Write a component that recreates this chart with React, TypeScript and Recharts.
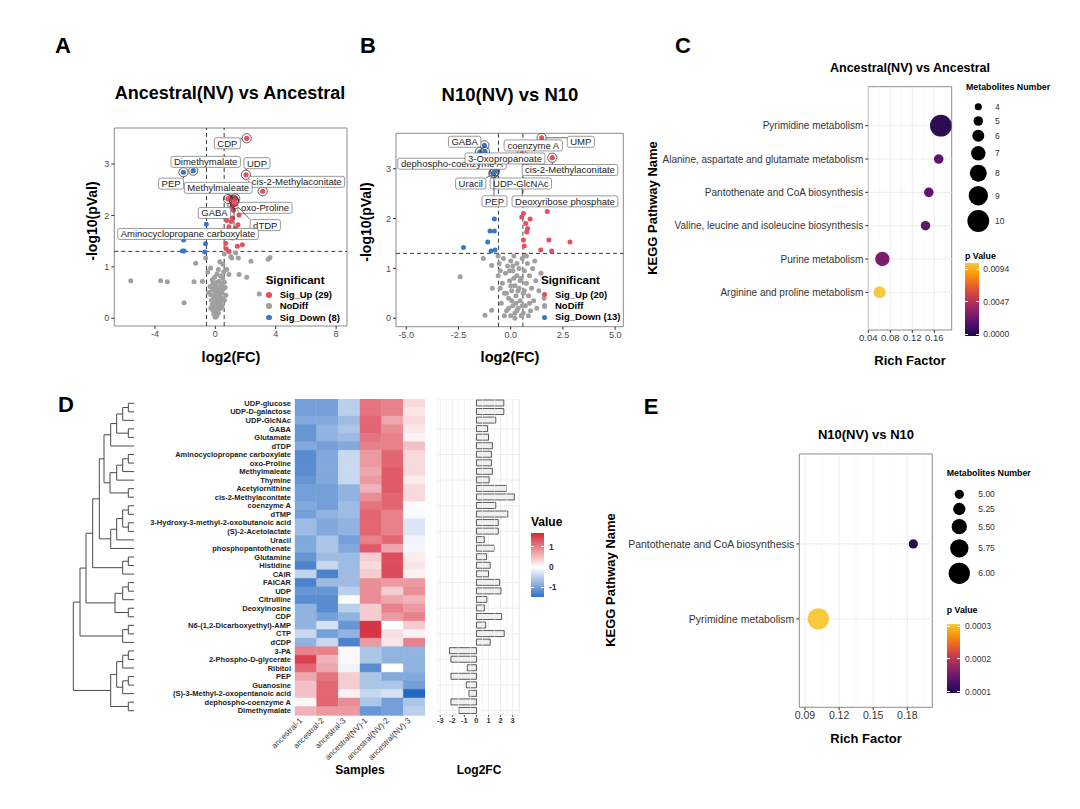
import React from "react";
import {
  ScatterChart,
  Scatter,
  XAxis,
  YAxis,
  ReferenceLine,
  ReferenceArea,
  BarChart,
  Bar,
  Cell,
  CartesianGrid,
} from "recharts";

const FONT = "'Liberation Sans', Arial, Helvetica, sans-serif";
const RED = "#E4505E";
const BLUE = "#3B77C4";
const GRAY = "#A0A0A0";
const LFC = 0.585;
const PCUT = 1.301;

type XY = [number, number];
type Tagged = { name: string; x: number; y: number; sig: "up" | "down" };

// ---------- A: Ancestral(NV) vs Ancestral ----------
const aUp: XY[] = [
  [0.8, 2.04], [1.57, 2.01], [1.13, 1.95], [1.5, 1.82], [0.9, 1.78], [1.35, 1.75],
  [0.8, 1.62], [1.13, 1.56], [1.79, 1.43], [1.46, 1.4], [0.91, 1.3], [0.69, 1.46],
  [1.0, 2.36], [1.15, 2.28], [1.1, 2.18], [0.95, 2.12], [1.2, 2.1], [1.05, 1.88],
  [0.75, 1.9], [1.25, 1.65], [0.72, 1.35],
];
const aDown: XY[] = [
  [-0.6, 1.83], [-2.18, 1.31], [-2.07, 1.31], [-0.7, 1.29], [-2.1, 1.52], [-0.65, 1.45],
];
const aNoDiff: XY[] = [
  [-5.6, 0.73], [-3.62, 0.73], [-3.18, 0.71], [-2.07, 0.3], [-1.41, 0.71], [-1.3, 1.07],
  [-0.85, 0.72], [-0.64, 1.17], [-0.5, 0.9], [-0.31, 0.98], [-0.2, 0.75], [0.3, 1.1],
  [0.5, 1.05], [0.6, 1.25], [0.75, 0.95], [0.9, 0.85], [1.02, 1.2], [1.09, 1.17],
  [1.35, 1.27], [1.52, 1.17], [1.57, 0.85], [2.08, 0.8], [2.36, 1.11], [2.91, 0.47],
  [3.5, 1.15], [3.62, 1.18],
  [0, 0.02], [0.1, 0.05], [-0.1, 0.08], [0.2, 0.1], [0.05, 0.12], [-0.15, 0.15],
  [0.25, 0.18], [0.1, 0.2], [-0.05, 0.22], [0.3, 0.25], [0.15, 0.27], [-0.2, 0.28],
  [0, 0.3], [0.35, 0.32], [-0.25, 0.35], [0.2, 0.36], [0.05, 0.38], [0.4, 0.4],
  [-0.1, 0.42], [0.25, 0.44], [-0.3, 0.46], [0.1, 0.48], [0.45, 0.5], [0, 0.52],
  [-0.2, 0.55], [0.3, 0.56], [0.55, 0.58], [0.15, 0.6], [-0.35, 0.62], [0.4, 0.64],
  [0.05, 0.66], [-0.15, 0.68], [0.6, 0.7], [0.25, 0.72], [0.5, 0.78], [-0.05, 0.8],
  [0.35, 0.82], [0.1, 0.86], [0.55, 0.9], [0.2, 0.95], [0.65, 0.6], [0.7, 0.45],
  [-0.45, 0.5], [0.45, 0.25], [-0.3, 0.2], [0.15, 0.14], [0.3, 0.4], [0.2, 0.5],
  [-0.1, 0.6], [0.4, 0.2], [0.0, 0.45], [0.1, 0.7], [0.45, 0.68], [0.6, 0.35],
];
const aTagged: Tagged[] = [
  { name: "CDP", x: 2.08, y: 3.5, sig: "up" },
  { name: "UDP", x: 2.03, y: 2.79, sig: "up" },
  { name: "cis-2-Methylaconitate", x: 3.14, y: 2.47, sig: "up" },
  { name: "Methylmaleate", x: 1.32, y: 2.33, sig: "up" },
  { name: "oxo-Proline", x: 1.24, y: 2.3, sig: "up" },
  { name: "GABA", x: 0.84, y: 2.32, sig: "up" },
  { name: "dTDP", x: 1.32, y: 2.22, sig: "up" },
  { name: "Aminocyclopropane carboxylate", x: 1.24, y: 2.27, sig: "up" },
  { name: "PEP", x: -2.11, y: 2.84, sig: "down" },
  { name: "Dimethymalate", x: -1.46, y: 2.87, sig: "down" },
];
// label box centre, pixel offset from its point (layout only)
const aTagPos: Record<string, XY> = {
  CDP: [-19.4, 5],
  UDP: [11, -11.6],
  "cis-2-Methylaconitate": [34, -9.4],
  Methylmaleate: [-17, -10.6],
  "oxo-Proline": [31, 7.8],
  GABA: [-13.5, 14],
  dTDP: [30, 21],
  "Aminocyclopropane carboxylate": [-46, 32.4],
  PEP: [-12.4, 11.4],
  Dimethymalate: [12.4, -8.8],
};

// ---------- B: N10(NV) vs N10 ----------
const bUp: XY[] = [
  [1.75, 2.14], [0.61, 2.1], [0.53, 2.03], [0.93, 1.99], [0.72, 1.9], [0.81, 1.8],
  [0.77, 1.73], [0.61, 1.57], [1.83, 1.57], [2.84, 1.53], [1.44, 1.37], [1.96, 1.35],
  [0.65, 1.45], [0.62, 3.24], [0.75, 3.1], [1.5, 3.55],
];
const bDown: XY[] = [
  [-0.78, 1.99], [-0.99, 1.75], [-0.78, 1.75], [-1.1, 1.53], [-2.26, 1.42], [-0.94, 1.35],
  [-0.75, 1.37],
];
const bNoDiff: XY[] = [
  [-2.42, 0.83], [-1.23, 0.06], [-0.91, 0.16], [-1.31, 1.2], [-0.91, 1.06], [-0.88, 0.6],
  [-0.6, 1.25], [-0.55, 1.1], [-0.5, 0.95], [-0.45, 0.3], [-0.4, 0.7], [-0.35, 1.2],
  [-0.3, 0.5], [-0.25, 0.9], [-0.2, 0.15], [-0.15, 1.05], [-0.1, 0.4], [-0.05, 0.75],
  [0, 1.15], [0, 0.05], [0.05, 0.55], [0.1, 0.95], [0.1, 0.25], [0.15, 1.25],
  [0.2, 0.65], [0.2, 0.1], [0.25, 0.45], [0.3, 0.85], [0.3, 1.1], [0.35, 0.2],
  [0.4, 0.6], [0.4, 1.0], [0.45, 0.35], [0.5, 0.8], [0.5, 0.05], [0.55, 1.2],
  [0.6, 0.5], [0.65, 0.95], [0.7, 0.25], [0.75, 0.7], [0.8, 1.1], [0.85, 0.45],
  [0.9, 0.85], [0.95, 0.15], [1.0, 0.6], [1.05, 1.0], [1.1, 0.35], [1.2, 0.75],
  [1.25, 0.2], [1.35, 0.55], [1.45, 0.9], [1.6, 0.4], [-0.5, 0.6], [-0.3, 0.05],
  [-0.1, 0.2], [0.0, 0.65], [0.05, 0.35], [0.15, 0.8], [0.25, 0.3], [0.35, 0.55],
  [0.45, 0.75], [0.55, 0.25], [0.65, 0.55], [-0.2, 0.5], [0.1, 1.05], [0.3, 0.15],
  [0.75, 1.25], [0.9, 0.3], [-0.6, 0.85], [1.15, 1.15], [0.2, 0.0], [0.6, 0.1],
  [-0.05, 0.95], [0.85, 0.05],
];
const bTagged: Tagged[] = [
  { name: "GABA", x: -1.26, y: 3.47, sig: "down" },
  { name: "dephospho-coenzyme A", x: -1.47, y: 3.34, sig: "down" },
  { name: "3-Oxopropanoate", x: -1.23, y: 3.34, sig: "down" },
  { name: "Uracil", x: -0.83, y: 2.9, sig: "down" },
  { name: "UDP-GlcNAc", x: -0.75, y: 2.95, sig: "down" },
  { name: "PEP", x: -0.8, y: 2.92, sig: "down" },
  { name: "coenzyme A", x: 0.53, y: 3.3, sig: "up" },
  { name: "UMP", x: 1.48, y: 3.62, sig: "up" },
  { name: "cis-2-Methylaconitate", x: 1.99, y: 3.22, sig: "up" },
  { name: "Deoxyribose phosphate", x: 0.55, y: 2.7, sig: "up" },
];
const bTagPos: Record<string, XY> = {
  GABA: [-19.7, -3.5],
  "dephospho-coenzyme A": [-28, 12],
  "3-Oxopropanoate": [20, 6.7],
  Uracil: [-22.6, 9.8],
  "UDP-GlcNAc": [25.8, 12.3],
  PEP: [0.5, 28.6],
  "coenzyme A": [11.5, -8.3],
  UMP: [39.2, 4],
  "cis-2-Methylaconitate": [17.7, 12.3],
  "Deoxyribose phosphate": [42.8, 17.7],
};

// ---------- C / E: KEGG enrichment ----------
const cPathways = [
  "Pyrimidine metabolism",
  "Alanine, aspartate and glutamate metabolism",
  "Pantothenate and CoA biosynthesis",
  "Valine, leucine and isoleucine biosynthesis",
  "Purine metabolism",
  "Arginine and proline metabolism",
];
const cRich = [0.172, 0.168, 0.15, 0.144, 0.0655, 0.0607];
const cCount = [10, 5, 5, 5, 7, 6];
const cP = [0.0005, 0.0019, 0.002, 0.0021, 0.0028, 0.0094];
const cSizeKeys = [4, 5, 6, 7, 8, 9, 10];

const ePathways = ["Pantothenate and CoA biosynthesis", "Pyrimidine metabolism"];
const eRich = [0.1853, 0.1017];
const eCount = [5, 6];
const eP = [0.00011, 0.0003];
const eSizeKeys = [5.0, 5.25, 5.5, 5.75, 6.0];

// ---------- D: heatmap ----------
const samples = [
  "ancestral-1", "ancestral-2", "ancestral-3",
  "ancestral(NV)-1", "ancestral(NV)-2", "ancestral(NV)-3",
];
const metabolites = [
  "UDP-glucose", "UDP-D-galactose", "UDP-GlcNAc", "GABA", "Glutamate", "dTDP",
  "Aminocyclopropane carboxylate", "oxo-Proline", "Methylmaleate", "Thymine",
  "Acetylornithine", "cis-2-Methylaconitate", "coenzyme A", "dTMP",
  "3-Hydroxy-3-methyl-2-oxobutanoic acid", "(S)-2-Acetolactate", "Uracil",
  "phosphopantothenate", "Glutamine", "Histidine", "CAIR", "FAICAR", "UDP",
  "Citrulline", "Deoxyinosine", "CDP", "N6-(1,2-Dicarboxyethyl)-AMP", "CTP", "dCDP",
  "3-PA", "2-Phospho-D-glycerate", "Ribitol", "PEP", "Guanosine",
  "(S)-3-Methyl-2-oxopentanoic acid", "dephospho-coenzyme A", "Dimethymalate",
];
const heatZ = [
  [-1.0, -1.0, -0.5, 1.1, 1.0, 0.3],
  [-1.0, -1.0, -0.5, 1.1, 1.0, 0.2],
  [-0.9, -0.9, -0.7, 1.2, 0.7, 0.3],
  [-1.1, -0.8, -0.6, 1.2, 0.9, 0.2],
  [-1.1, -0.8, -0.7, 1.1, 1.0, 0.1],
  [-0.9, -1.0, -0.9, 1.0, 1.0, 0.5],
  [-1.2, -0.9, -0.4, 0.8, 1.2, 0.3],
  [-1.2, -0.9, -0.4, 0.8, 1.2, 0.3],
  [-1.2, -0.9, -0.4, 0.7, 1.3, 0.3],
  [-1.1, -0.9, -0.4, 0.8, 1.3, 0.15],
  [-1.0, -1.0, -0.8, 0.6, 1.3, 0.3],
  [-1.0, -1.0, -0.8, 0.9, 1.2, 0.3],
  [-0.9, -1.0, -0.7, 1.1, 1.2, 0.03],
  [-1.0, -0.8, -0.7, 1.2, 1.0, -0.05],
  [-0.7, -0.9, -0.8, 1.2, 1.0, -0.25],
  [-0.7, -0.9, -0.8, 1.2, 1.0, -0.25],
  [-0.9, -0.6, -1.0, 1.0, 1.2, -0.1],
  [-0.9, -0.6, -0.9, 1.3, 0.7, -0.08],
  [-1.1, -0.7, -0.7, 0.4, 1.4, 0.15],
  [-1.3, -0.4, -0.7, 0.3, 1.4, 0.2],
  [-0.45, -1.3, -0.7, 0.4, 1.4, 0.1],
  [-1.3, -0.7, -0.7, 0.9, 0.8, 0.8],
  [-1.1, -1.1, -0.5, 0.9, 0.4, 0.9],
  [-1.2, -1.2, -0.05, 0.9, 0.7, 0.6],
  [-0.8, -1.2, -0.5, 0.4, 1.0, 0.8],
  [-0.8, -1.0, -0.8, 0.4, 0.8, 1.0],
  [-0.8, -0.3, -1.1, 1.6, 0.0, 0.4],
  [-0.4, -1.0, -0.8, 1.6, 0.25, 0.1],
  [-0.8, -0.4, -1.3, 0.8, 0.2, 1.0],
  [1.0, 1.0, 0.05, -0.6, -0.8, -0.8],
  [1.5, 0.6, 0.05, -0.6, -0.8, -0.8],
  [1.2, 0.7, -0.1, -1.2, 0.0, -0.8],
  [0.7, 1.1, 0.4, -0.6, -0.9, -0.9],
  [0.5, 1.2, 0.4, -0.6, -0.6, -1.0],
  [0.5, 1.2, 0.1, -0.4, -0.3, -1.6],
  [0.05, 1.2, 0.9, -0.6, -1.0, -0.6],
  [0.6, 0.8, 0.8, -1.1, -1.0, -0.5],
];
const log2fc = [
  2.27, 2.27, 1.6, 0.92, 1.0, 1.32, 1.24, 1.24, 1.32, 1.05, 2.49, 3.14, 1.6, 2.6,
  1.81, 1.81, 0.65, 1.49, 0.84, 1.14, 1.0, 1.92, 2.03, 0.86, 0.65, 2.08, 0.76, 2.3,
  1.14, -2.24, -2.11, -0.76, -2.11, -0.84, -0.62, -2.11, -1.46,
];
// row clustering: [left, right, merge height]; leaves are row numbers
type Tree = number | [Tree, Tree, number];
const dendro: Tree = [
  [
    [
      [
        [
          [
            [[[[1, 2, 5.7], 3, 11.3], [4, 5, 5.7], 17.3], 6, 23.3],
            [[[[7, 8, 5.7], 9, 11.3], 10, 17.3], [11, 12, 5.7], 24],
            30,
          ],
          [[[[13, 14, 5.7], [15, 16, 5.7], 11.3], 17, 17.3], 18, 23.3],
          34.7,
        ],
        [[19, 20, 5.7], 21, 11.3],
        41.3,
      ],
      [[[22, 23, 5.7], 24, 11.3], [25, 26, 5.7], 19],
      48,
    ],
    [[27, 28, 5.7], 29, 11.3],
    54,
  ],
  [[[[30, 31, 5.7], 32, 11.3], [[33, 34, 5.7], 35, 11.3], 17.3], [36, 37, 5.7], 23.3],
  60.7,
];

// ---------- helpers ----------
const pts = (a: XY[]) => a.map(([x, y]) => ({ x, y }));

let measureCtx: CanvasRenderingContext2D | null = null;
function textWidth(s: string, size: number) {
  if (!measureCtx) measureCtx = document.createElement("canvas").getContext("2d");
  if (!measureCtx) return s.length * size * 0.5;
  measureCtx.font = `${size}px 'Liberation Sans', Arial`;
  return measureCtx.measureText(s).width;
}

function mix(a: number[], b: number[], t: number) {
  const c = a.map((v, i) => Math.round(v + (b[i] - v) * t));
  return `rgb(${c[0]},${c[1]},${c[2]})`;
}
function hex(h: string) {
  return [1, 3, 5].map((i) => parseInt(h.slice(i, i + 2), 16));
}
const INFERNO = ["#1B0C41", "#4A0C6B", "#781C6D", "#A52C60", "#CF4446", "#ED6925", "#FB9B06", "#F7C93D"];
function inferno(t: number) {
  const u = Math.max(0, Math.min(1, t)) * (INFERNO.length - 1);
  const i = Math.min(INFERNO.length - 2, Math.floor(u));
  return mix(hex(INFERNO[i]), hex(INFERNO[i + 1]), u - i);
}
const HEAT_HI = [214, 40, 57];
const HEAT_LO = [33, 102, 192];
const WHITE = [255, 255, 255];
function heatColor(v: number) {
  return v >= 0 ? mix(WHITE, HEAT_HI, Math.min(1, v / 1.7)) : mix(WHITE, HEAT_LO, Math.min(1, -v / 1.6));
}

function Txt(p: {
  x: number; y: number; text: string; size: number; bold?: boolean;
  rotate?: number; color?: string; anchor?: "start" | "middle";
}) {
  const tx = p.anchor === "start" ? "0" : "-50%";
  return (
    <div
      style={{
        position: "absolute", left: p.x, top: p.y,
        transform: `translate(${tx},-50%) rotate(${p.rotate ?? 0}deg)`,
        fontSize: p.size, fontWeight: p.bold === false ? 400 : 700,
        color: p.color ?? "#000", whiteSpace: "nowrap", lineHeight: 1,
      }}
    >
      {p.text}
    </div>
  );
}

// plain, non-wrapping left-axis tick
const leftTick = (size: number, weight: number, fill: string, fmt?: (v: any) => string) => (t: any) => (
  <text x={t.x} y={t.y} dy="0.35em" textAnchor="end" fontSize={size} fontWeight={weight} fill={fill}>
    {fmt ? fmt(t.payload.value) : t.payload.value}
  </text>
);

// ---------- volcano ----------
const dot = (color: string) => (p: any) => (
  <circle cx={p.cx} cy={p.cy} r={2.5} fill={color} />
);
const ringShape = (p: any) => {
  const d = p.payload as Tagged;
  return (
    <g>
      <circle cx={p.cx} cy={p.cy} r={2.6} fill={d.sig === "up" ? RED : BLUE} />
      <circle cx={p.cx} cy={p.cy} r={4.6} fill="none" stroke="#222" strokeWidth={0.7} />
    </g>
  );
};
const boxShape = (pos: Record<string, XY>) => (p: any) => {
  const d = p.payload as Tagged;
  const [dx, dy] = pos[d.name];
  const w = textWidth(d.name, 9.5) + 6;
  const h = 11;
  const bx = p.cx + dx;
  const by = p.cy + dy;
  const nx = Math.max(bx - w / 2, Math.min(bx + w / 2, p.cx));
  const ny = Math.max(by - h / 2, Math.min(by + h / 2, p.cy));
  const dist = Math.hypot(nx - p.cx, ny - p.cy);
  return (
    <g>
      {dist > 5 && (
        <line
          x1={p.cx + ((nx - p.cx) / dist) * 4.6} y1={p.cy + ((ny - p.cy) / dist) * 4.6}
          x2={nx} y2={ny} stroke="#222" strokeWidth={0.7}
        />
      )}
      <rect x={bx - w / 2} y={by - h / 2} width={w} height={h} rx={2} fill="#fff" stroke="#555" strokeWidth={0.6} />
      <text x={bx} y={by} dy="0.36em" textAnchor="middle" fontSize={9.5} fill="#222">
        {d.name}
      </text>
    </g>
  );
};

function SigLegend({ left, top, up, down }: { left: number; top: number; up: number; down: number }) {
  const rows: [string, string][] = [[RED, `Sig_Up (${up})`], [GRAY, "NoDiff"], [BLUE, `Sig_Down (${down})`]];
  return (
    <>
      <Txt x={left} y={top} text="Significant" size={11.5} anchor="start" />
      {rows.map(([c, t], i) => (
        <React.Fragment key={t}>
          <div
            style={{
              position: "absolute", left: left + 3.3 - 2.8, top: top + 13.5 + i * 11.4 - 2.8,
              width: 5.6, height: 5.6, borderRadius: "50%", background: c,
            }}
          />
          <Txt x={left + 14} y={top + 13.5 + i * 11.4} text={t} size={9.5} anchor="start" />
        </React.Fragment>
      ))}
    </>
  );
}

type Box = { left: number; top: number; width: number; height: number };
type Plot = { left: number; top: number; right: number; bottom: number };

function Volcano(p: {
  box: Box; plot: Plot; xDomain: [number, number]; yDomain: [number, number];
  xTicks: number[]; xFmt: (v: number) => string;
  noDiff: XY[]; up: XY[]; down: XY[]; tagged: Tagged[]; tagPos: Record<string, XY>;
}) {
  const { box, plot } = p;
  const xh = 18;
  return (
    <div style={{ position: "absolute", left: box.left, top: box.top }}>
      <ScatterChart
        width={box.width}
        height={box.height}
        margin={{
          top: plot.top - box.top,
          right: box.left + box.width - plot.right,
          bottom: box.top + box.height - plot.bottom - xh,
          left: 0,
        }}
      >
        <XAxis
          type="number" dataKey="x" domain={p.xDomain} ticks={p.xTicks} allowDataOverflow
          height={xh} tickSize={3} tickMargin={2} axisLine={false} interval={0}
          tickLine={{ stroke: "#333" }} tick={{ fontSize: 9, fill: "#4d4d4d" }} tickFormatter={p.xFmt}
        />
        <YAxis
          type="number" dataKey="y" domain={p.yDomain} ticks={[0, 1, 2, 3]} allowDataOverflow
          width={plot.left - box.left} tickSize={3} tickMargin={2} axisLine={false} interval={0}
          tickLine={{ stroke: "#333" }} tick={{ fontSize: 9, fill: "#4d4d4d" }}
        />
        <ReferenceArea
          x1={p.xDomain[0]} x2={p.xDomain[1]} y1={p.yDomain[0]} y2={p.yDomain[1]}
          fill="none" fillOpacity={0} stroke="#8a8a8a" strokeWidth={1}
        />
        <ReferenceLine x={-LFC} stroke="#222" strokeDasharray="4 3" strokeWidth={0.9} />
        <ReferenceLine x={LFC} stroke="#222" strokeDasharray="4 3" strokeWidth={0.9} />
        <ReferenceLine y={PCUT} stroke="#222" strokeDasharray="4 3" strokeWidth={0.9} />
        <Scatter data={pts(p.noDiff)} shape={dot(GRAY)} isAnimationActive={false} />
        <Scatter data={pts(p.up)} shape={dot(RED)} isAnimationActive={false} />
        <Scatter data={pts(p.down)} shape={dot(BLUE)} isAnimationActive={false} />
        <Scatter data={p.tagged} shape={ringShape} isAnimationActive={false} />
        <Scatter data={p.tagged} shape={boxShape(p.tagPos)} isAnimationActive={false} />
      </ScatterChart>
    </div>
  );
}

// ---------- KEGG bubble ----------
function Bubble(p: {
  box: Box; plot: Plot; xDomain: [number, number]; yDomain: [number, number];
  xTicks: number[]; minor: number[]; names: string[]; rich: number[]; count: number[];
  pv: number[]; radius: (n: number) => number; colorT: (v: number) => number;
  tickSize: number; labelSize: number;
}) {
  const { box, plot } = p;
  const xh = 16;
  const n = p.names.length;
  const data = p.names.map((name, i) => ({ name, x: p.rich[i], y: n - i, count: p.count[i], p: p.pv[i] }));
  const rows = data.map((d) => d.y);
  return (
    <div style={{ position: "absolute", left: box.left, top: box.top }}>
      <ScatterChart
        width={box.width}
        height={box.height}
        margin={{
          top: plot.top - box.top,
          right: box.left + box.width - plot.right,
          bottom: box.top + box.height - plot.bottom - xh,
          left: 0,
        }}
      >
        <XAxis
          type="number" dataKey="x" domain={p.xDomain} ticks={p.xTicks} allowDataOverflow
          height={xh} tickSize={3} tickMargin={1} axisLine={false} interval={0}
          tickLine={{ stroke: "#333" }} tick={{ fontSize: p.tickSize, fill: "#333" }}
          tickFormatter={(v: number) => v.toFixed(2)}
        />
        <YAxis
          type="number" dataKey="y" domain={p.yDomain} ticks={rows} allowDataOverflow
          width={plot.left - box.left} tickSize={3} tickMargin={2} axisLine={false} interval={0}
          tickLine={{ stroke: "#333" }}
          tick={leftTick(p.labelSize, 400, "#333", (v: number) => p.names[n - v] ?? "")}
        />
        {p.minor.map((v) => (
          <ReferenceLine key={`m${v}`} x={v} stroke="#f3f3f3" strokeWidth={0.6} />
        ))}
        {p.xTicks.map((v) => (
          <ReferenceLine key={`M${v}`} x={v} stroke="#ebebeb" strokeWidth={0.9} />
        ))}
        {rows.map((v) => (
          <ReferenceLine key={`r${v}`} y={v} stroke="#ebebeb" strokeWidth={0.9} />
        ))}
        <ReferenceArea
          x1={p.xDomain[0]} x2={p.xDomain[1]} y1={p.yDomain[0]} y2={p.yDomain[1]}
          fill="none" fillOpacity={0} stroke="#8a8a8a" strokeWidth={1}
        />
        <Scatter
          data={data}
          isAnimationActive={false}
          shape={(s: any) => (
            <circle cx={s.cx} cy={s.cy} r={p.radius(s.payload.count)} fill={inferno(p.colorT(s.payload.p))} />
          )}
        />
      </ScatterChart>
    </div>
  );
}

function SizeLegend(p: { left: number; titleY: number; cx: number; ys: number[]; keys: number[]; fmt: (v: number) => string; labelX: number; radius: (n: number) => number }) {
  return (
    <>
      <Txt x={p.left} y={p.titleY} text="Metabolites Number" size={8.8} anchor="start" />
      <svg style={{ position: "absolute", left: 0, top: 0, overflow: "visible" }} width={1} height={1}>
        {p.keys.map((k, i) => (
          <circle key={k} cx={p.cx} cy={p.ys[i]} r={p.radius(k)} fill="#000" />
        ))}
      </svg>
      {p.keys.map((k, i) => (
        <Txt key={k} x={p.labelX} y={p.ys[i]} text={p.fmt(k)} size={8.5} bold={false} color="#333" anchor="start" />
      ))}
    </>
  );
}

function ColorBar(p: { left: number; top: number; width: number; height: number; gradient: string; ticks: [string, number][]; labelX: number; bold?: boolean; title: string; titleY: number; titleSize: number }) {
  return (
    <>
      <Txt x={p.left} y={p.titleY} text={p.title} size={p.titleSize} anchor="start" />
      <div style={{ position: "absolute", left: p.left, top: p.top, width: p.width, height: p.height, background: p.gradient }} />
      {p.ticks.map(([t, y]) => (
        <React.Fragment key={t}>
          <div style={{ position: "absolute", left: p.left, top: y - 0.5, width: 3, height: 1, background: "#fff" }} />
          <div style={{ position: "absolute", left: p.left + p.width - 3, top: y - 0.5, width: 3, height: 1, background: "#fff" }} />
          <Txt x={p.labelX} y={y} text={t} size={8.5} bold={!!p.bold} color="#333" anchor="start" />
        </React.Fragment>
      ))}
    </>
  );
}

const infernoCss = `linear-gradient(to top, ${INFERNO.join(", ")})`;
const cRadius = (n: number) => (2.45 * n - 2.7) / 2;
const eRadius = (n: number) => (9.3 + (n - 5) * 12) / 2;

// ---------- dendrogram ----------
type Seg = [{ x: number; y: number }, { x: number; y: number }];
function layoutTree(t: Tree, segs: Seg[]): { y: number; h: number } {
  if (typeof t === "number") return { y: t, h: 0 };
  const a = layoutTree(t[0], segs);
  const b = layoutTree(t[1], segs);
  const h = t[2];
  segs.push([{ x: h, y: a.y }, { x: h, y: b.y }]);
  segs.push([{ x: a.h, y: a.y }, { x: h, y: a.y }]);
  segs.push([{ x: b.h, y: b.y }, { x: h, y: b.y }]);
  return { y: (a.y + b.y) / 2, h };
}

const HEAT_TOP = 399;
const HEAT_H = 316;

function Dendrogram() {
  const segs: Seg[] = [];
  layoutTree(dendro, segs);
  const leaves = metabolites.map((_, i) => ({ x: 0, y: i + 1 }));
  return (
    <div style={{ position: "absolute", left: 60, top: HEAT_TOP }}>
      <ScatterChart width={80} height={HEAT_H} margin={{ top: 0, right: 6, bottom: 0, left: 12 }}>
        <XAxis type="number" dataKey="x" domain={[0, 62]} reversed hide allowDataOverflow />
        <YAxis type="number" dataKey="y" domain={[0.5, metabolites.length + 0.5]} reversed hide allowDataOverflow />
        {segs.map((s, i) => (
          <ReferenceLine key={i} segment={s} stroke="#4a4a4a" strokeWidth={1} ifOverflow="visible" />
        ))}
        <Scatter data={leaves} shape={() => <g />} isAnimationActive={false} />
      </ScatterChart>
    </div>
  );
}

const cellKeys = samples.map((_, j) => `c${j}`);
const heatTable = metabolites.map((name) => {
  const row: Record<string, string | number> = { name };
  cellKeys.forEach((k) => (row[k] = 1));
  return row;
});

const SampleTick = (p: any) => {
  const x = p.x - 3;
  const y = p.y + 6;
  return (
    <text x={x} y={y} transform={`rotate(-45 ${x} ${y})`} textAnchor="end" fontSize={8} fill="#333">
      {samples[Math.floor(p.payload.value)]}
    </text>
  );
};

function Heatmap() {
  return (
    <div style={{ position: "absolute", left: 130, top: HEAT_TOP }}>
      <BarChart
        width={295} height={HEAT_H + 62} data={heatTable} layout="vertical"
        barCategoryGap={0} barGap={0} margin={{ top: 0, right: 0, bottom: 0, left: 0 }}
      >
        <XAxis
          type="number" domain={[0, samples.length]} ticks={samples.map((_, j) => j + 0.5)}
          height={62} axisLine={false} tickLine={false} tickSize={0} tickMargin={0} interval={0}
          tick={SampleTick}
        />
        <YAxis
          type="category" dataKey="name" width={165} axisLine={false} tickLine={false}
          tickSize={0} tickMargin={4} interval={0}
          tick={leftTick(7.5, 700, "#222")}
        />
        {cellKeys.map((k, j) => (
          <Bar key={k} dataKey={k} stackId="h" isAnimationActive={false}>
            {metabolites.map((_, i) => (
              <Cell key={i} fill={heatColor(heatZ[i][j])} stroke={heatColor(heatZ[i][j])} strokeWidth={0.4} />
            ))}
          </Bar>
        ))}
      </BarChart>
    </div>
  );
}

const fcTable = metabolites.map((name, i) => ({ name, fc: log2fc[i] }));
const fcMinor = [-2.5, -1.5, -0.5, 0.5, 1.5, 2.5, 3.5];

function FoldBars() {
  return (
    <div style={{ position: "absolute", left: 436.7, top: HEAT_TOP }}>
      <BarChart
        width={83.3} height={HEAT_H + 16} data={fcTable} layout="vertical"
        margin={{ top: 0, right: 1, bottom: 0, left: 0 }}
      >
        <CartesianGrid stroke="#e6e6e6" strokeWidth={0.7} />
        {fcMinor.map((v) => (
          <ReferenceLine key={v} x={v} stroke="#f0f0f0" strokeWidth={0.6} />
        ))}
        <XAxis
          type="number" domain={[-3.27, 3.55]} ticks={[-3, -2, -1, 0, 1, 2, 3]} allowDataOverflow
          height={16} axisLine={false} tickSize={2} tickMargin={1} interval={0}
          tickLine={{ stroke: "#555" }} tick={{ fontSize: 7.5, fontWeight: 700, fill: "#333" }}
        />
        <YAxis type="category" dataKey="name" hide />
        <Bar dataKey="fc" barSize={6} fill="#efefef" stroke="#333" strokeWidth={0.8} isAnimationActive={false} />
      </BarChart>
    </div>
  );
}

const heatCss = `linear-gradient(to bottom, ${heatColor(1.7)} 0%, #ffffff 53.5%, ${heatColor(-1.48)} 100%)`;

export default function App() {
  const aUpN = aUp.length + aTagged.filter((t) => t.sig === "up").length;
  const aDownN = aDown.length + aTagged.filter((t) => t.sig === "down").length;
  const bUpN = bUp.length + bTagged.filter((t) => t.sig === "up").length;
  const bDownN = bDown.length + bTagged.filter((t) => t.sig === "down").length;
  return (
    <div
      style={{
        position: "absolute", left: 0, top: 0, width: 1080, height: 809,
        background: "#fff", fontFamily: FONT, overflow: "hidden",
      }}
    >
      {/* panel letters */}
      <Txt x={63} y={46} text="A" size={22} />
      <Txt x={368} y={46} text="B" size={22} />
      <Txt x={683} y={46} text="C" size={22} />
      <Txt x={66} y={405} text="D" size={22} />
      <Txt x={651} y={407} text="E" size={22} />

      {/* A */}
      <Txt x={230} y={93} text="Ancestral(NV) vs Ancestral" size={18} />
      <Volcano
        box={{ left: 60, top: 110, width: 300, height: 260 }}
        plot={{ left: 114.3, top: 128, right: 347, bottom: 326 }}
        xDomain={[-6.69, 8.72]} yDomain={[-0.15, 3.7]} xTicks={[-4, 0, 4, 8]}
        xFmt={(v) => String(v)}
        noDiff={aNoDiff} up={aUp} down={aDown} tagged={aTagged} tagPos={aTagPos}
      />
      <Txt x={92} y={221} text="-log10(pVal)" size={14} rotate={-90} />
      <Txt x={231} y={357} text="log2(FC)" size={14.5} />
      <SigLegend left={265.7} top={281.3} up={aUpN} down={aDownN} />

      {/* B */}
      <Txt x={510} y={95} text="N10(NV) vs N10" size={18.5} />
      <Volcano
        box={{ left: 360, top: 115, width: 270, height: 255 }}
        plot={{ left: 396, top: 133.3, right: 623.3, bottom: 326.7 }}
        xDomain={[-5.49, 5.39]} yDomain={[-0.17, 3.71]} xTicks={[-5, -2.5, 0, 2.5, 5]}
        xFmt={(v) => v.toFixed(1)}
        noDiff={bNoDiff} up={bUp} down={bDown} tagged={bTagged} tagPos={bTagPos}
      />
      <Txt x={366} y={222} text="-log10(pVal)" size={14} rotate={-90} />
      <Txt x={510} y={357} text="log2(FC)" size={14.5} />
      <SigLegend left={541} top={281} up={bUpN} down={bDownN} />

      {/* C */}
      <Txt x={910} y={68} text="Ancestral(NV) vs Ancestral" size={12.5} />
      <Bubble
        box={{ left: 640, top: 70, width: 330, height: 280 }}
        plot={{ left: 868.3, top: 86.7, right: 951.7, bottom: 330 }}
        xDomain={[0.04, 0.1916]} yDomain={[-0.13, 7.17]}
        xTicks={[0.04, 0.08, 0.12, 0.16]} minor={[0.06, 0.1, 0.14, 0.18]}
        names={cPathways} rich={cRich} count={cCount} pv={cP}
        radius={cRadius} colorT={(v) => v / 0.0094} tickSize={9.5} labelSize={10}
      />
      <Txt x={652} y={208} text="KEGG Pathway Name" size={13} rotate={-90} />
      <Txt x={910} y={360} text="Rich Factor" size={13} />
      <SizeLegend
        left={966} titleY={87.3} cx={978.3} ys={[106.7, 121, 135.7, 153.3, 173.3, 195.7, 221]}
        keys={cSizeKeys} fmt={(v) => String(v)} labelX={995} radius={cRadius}
      />
      <ColorBar
        left={965} top={262.7} width={14.3} height={73.3} gradient={infernoCss}
        ticks={[["0.0094", 269.3], ["0.0047", 301.7], ["0.0000", 334]]} labelX={983.3}
        title="p Value" titleY={256} titleSize={8.8}
      />

      {/* D */}
      <Dendrogram />
      <Heatmap />
      <FoldBars />
      <Txt x={360} y={770} text="Samples" size={12} />
      <Txt x={479} y={770} text="Log2FC" size={12} />
      <ColorBar
        left={531} top={532.7} width={13.3} height={64.6} gradient={heatCss}
        ticks={[["1", 546.7], ["0", 567.3], ["-1", 587.3]]} labelX={549} bold
        title="Value" titleY={521.7} titleSize={12}
      />

      {/* E */}
      <Txt x={866} y={434} text="N10(NV) vs N10" size={13} />
      <Bubble
        box={{ left: 620, top: 440, width: 332.3, height: 287.3 }}
        plot={{ left: 799.3, top: 454, right: 932.3, bottom: 707.3 }}
        xDomain={[0.085, 0.202]} yDomain={[-0.18, 3.2]}
        xTicks={[0.09, 0.12, 0.15, 0.18]} minor={[0.105, 0.135, 0.165, 0.195]}
        names={ePathways} rich={eRich} count={eCount} pv={eP}
        radius={eRadius} colorT={(v) => (v - 0.0001) / 0.0002} tickSize={10.5} labelSize={10.5}
      />
      <Txt x={610} y={580} text="KEGG Pathway Name" size={13} rotate={-90} />
      <Txt x={866} y={738} text="Rich Factor" size={13} />
      <SizeLegend
        left={946.7} titleY={473.3} cx={959.3} ys={[494.3, 509, 526.7, 548.3, 573.3]}
        keys={eSizeKeys} fmt={(v) => v.toFixed(2)} labelX={978.3} radius={eRadius}
      />
      <ColorBar
        left={946.7} top={624} width={13.3} height={69.3} gradient={infernoCss}
        ticks={[["0.0003", 626], ["0.0002", 658.7], ["0.0001", 691.5]]} labelX={965}
        title="p Value" titleY={610} titleSize={8.8}
      />
    </div>
  );
}
